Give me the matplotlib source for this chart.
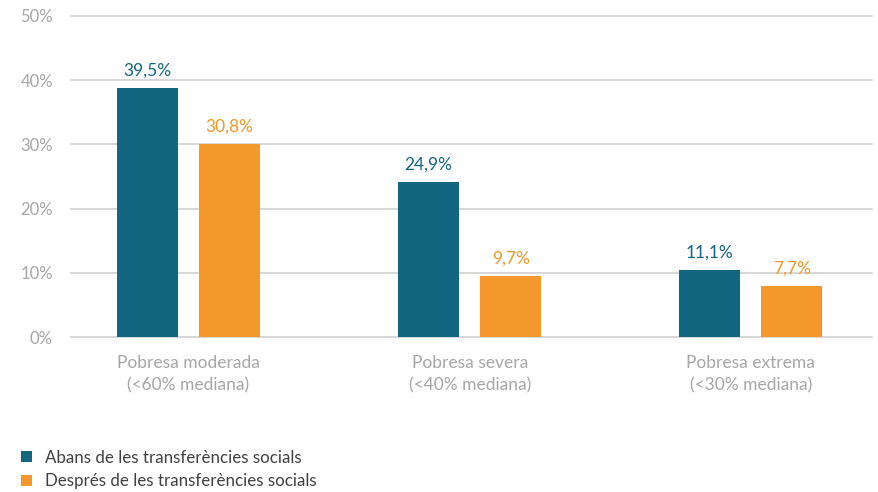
import matplotlib
matplotlib.use("Agg")
import matplotlib.pyplot as plt
from matplotlib.patches import Patch
import numpy as np

plt.rcParams['font.family'] = ['Lato', 'DejaVu Sans']

categories = ["Pobresa moderada\n(<60% mediana)", "Pobresa severa\n(<40% mediana)", "Pobresa extrema\n(<30% mediana)"]
series_names = ["Abans de les transferències socials", "Després de les transferències socials"]
before_values = [38.8, 24.2, 10.5]
after_values = [30.1, 9.5, 8.0]
before_labels = ["39,5%", "24,9%", "11,1%"]
after_labels = ["30,8%", "9,7%", "7,7%"]
y_ticks = [0, 10, 20, 30, 40, 50]
y_tick_labels = ["0%", "10%", "20%", "30%", "40%", "50%"]

teal = "#136680"
orange = "#F4982B"
gray_text = "#A6A6A6"
grid_col = "#D0D0D0"

fig = plt.figure(figsize=(8.79, 4.92), dpi=100)
ax = fig.add_axes([71/879, 1-337/492, (872-71)/879, (337-16)/492])

x = np.arange(len(categories))
w = 0.217
off = 0.146
b1 = ax.bar(x - off, before_values, width=w, color=teal, zorder=3)
b2 = ax.bar(x + off, after_values, width=w, color=orange, zorder=3)

for rect, lab in zip(b1, before_labels):
    ax.annotate(lab, (rect.get_x() + rect.get_width()/2, rect.get_height()),
                xytext=(0, 12.5), textcoords="offset points", ha="center", va="center",
                color=teal, fontsize=12.5)
for rect, lab in zip(b2, after_labels):
    ax.annotate(lab, (rect.get_x() + rect.get_width()/2, rect.get_height()),
                xytext=(0, 12.5), textcoords="offset points", ha="center", va="center",
                color=orange, fontsize=12.5)

ax.set_ylim(0, 50)
ax.set_xlim(-0.418, 2.431)
ax.set_yticks(y_ticks)
ax.set_yticklabels(y_tick_labels, color=gray_text, fontsize=12)
ax.set_xticks(x)
ax.set_xticklabels(categories, color=gray_text, fontsize=12.5, linespacing=1.45)
ax.tick_params(axis='y', length=0, pad=13)
ax.tick_params(axis='x', length=0, pad=13)
ax.grid(axis='y', color=grid_col, linewidth=1.2, zorder=0)
ax.set_axisbelow(True)
for s in ax.spines.values():
    s.set_visible(False)
for gl in ax.get_ygridlines():
    gl.set_clip_on(False)

handles = [Patch(facecolor=teal, edgecolor='none'), Patch(facecolor=orange, edgecolor='none')]
fig.legend(handles, series_names, loc='upper left', bbox_to_anchor=(14/879, 1-443/492),
           frameon=False, fontsize=12.2, handlelength=0.65, handleheight=0.65,
           handletextpad=0.8, labelspacing=0.45, labelcolor="#404040", borderaxespad=0)

fig.savefig("out.png", dpi=100)
